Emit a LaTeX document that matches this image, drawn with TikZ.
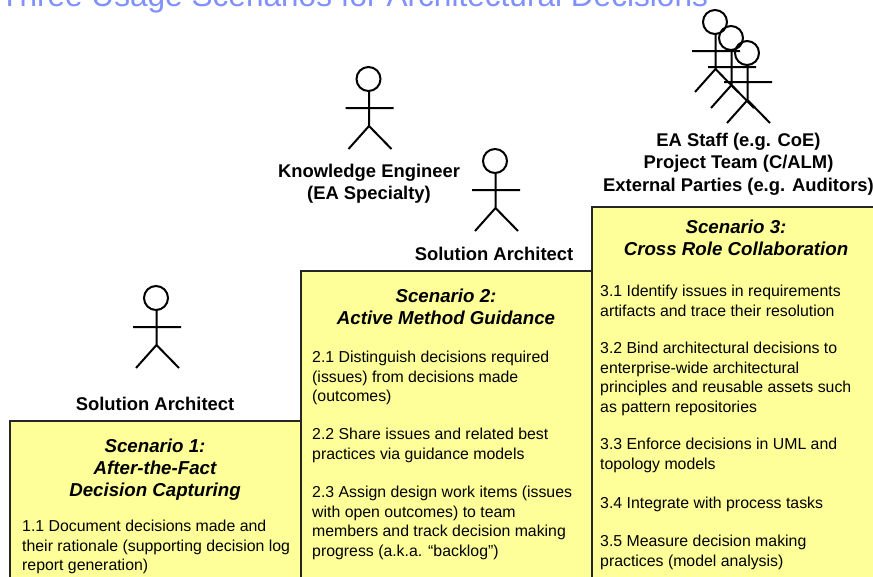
\documentclass[tikz,border=0pt]{standalone}
\usepackage{fontspec}
\setmainfont{Liberation Sans}
\definecolor{boxfill}{HTML}{FFFF99}
\definecolor{titleblue}{HTML}{8090FF}
\tikzset{
  x=1pt,y=-1pt,
  scenariobox/.style={draw=black!85,line width=1.2pt,fill=boxfill},
  rolelabel/.style={font=\fontsize{18.4}{22.4}\selectfont\bfseries,align=center,inner sep=0pt,anchor=north},
  scenhead/.style={font=\fontsize{18.7}{22.1}\selectfont\bfseries\itshape,align=center,inner sep=0pt,anchor=north},
  bodytext/.style={font=\fontsize{15.85}{19.5}\selectfont,align=left,inner sep=0pt,anchor=north west},
  stickman/.pic={
    \draw[line width=2pt] (0,0) circle[radius=12];
    \draw[line width=2pt] (0.5,12) -- (0.5,47) (-23,29) -- (25,29) (-20,70) -- (0.5,47) -- (23,70);
  }
}
\begin{document}
\begin{tikzpicture}
\useasboundingbox (0,0) rectangle (873,576);
\clip (0,0) rectangle (873,576);
\fill[white] (0,0) rectangle (873,576);
\node[font=\fontsize{31.6}{36}\selectfont,text=titleblue,inner sep=0pt,anchor=base west] (title) at (0,6.5) {Three Usage Scenarios for Architectural Decisions};
% boxes
\draw[scenariobox] (10,421) rectangle (301,590);
\draw[scenariobox] (301,271) rectangle (592,590);
\draw[scenariobox] (592,207) rectangle (890,590);
% figures
\pic at (156,298) {stickman};
\pic at (368.5,79) {stickman};
\pic at (495,161) {stickman};
\pic at (715,22) {stickman};
\pic at (731,38) {stickman};
\pic at (747,53) {stickman};
% role labels
\node[rolelabel] (r1) at (155,397) {Solution Architect};
\node[rolelabel] (r2) at (369,163.5) {Knowledge Engineer\\(EA Specialty)};
\node[rolelabel] (r2b) at (494,247) {Solution Architect};
\node[rolelabel] (r3) at (738.5,133) {EA Staff (e.g. CoE)\\Project Team (C/ALM)\\External Parties (e.g. Auditors)};
% scenario 1
\node[scenhead] (h1) at (155,438.5) {Scenario 1:\\After-the-Fact\\Decision Capturing};
\node[bodytext] (t11) at (22,520) {1.1 Document decisions made and\\their rationale (supporting decision log\\report generation)};
% scenario 2
\node[scenhead] (h2) at (446,289) {Scenario 2:\\Active Method Guidance};
\node[bodytext] (t21) at (312,351) {2.1 Distinguish decisions required\\(issues) from decisions made\\(outcomes)};
\node[bodytext] (t22) at (312,428) {2.2 Share issues and related best\\practices via guidance models};
\node[bodytext] (t23) at (312,486) {2.3 Assign design work items (issues\\with open outcomes) to team\\members and track decision making\\progress (a.k.a. “backlog”)};
% scenario 3
\node[scenhead] (h3) at (736,220) {Scenario 3:\\Cross Role Collaboration};
\node[bodytext] (t31) at (600,285) {3.1 Identify issues in requirements\\artifacts and trace their resolution};
\node[bodytext] (t32) at (600,342) {3.2 Bind architectural decisions to\\enterprise-wide architectural\\principles and reusable assets such\\as pattern repositories};
\node[bodytext] (t33) at (600,438) {3.3 Enforce decisions in UML and\\topology models};
\node[bodytext] (t34) at (600,497) {3.4 Integrate with process tasks};
\node[bodytext] (t35) at (600,535) {3.5 Measure decision making\\practices (model analysis)};
\end{tikzpicture}
\end{document}
